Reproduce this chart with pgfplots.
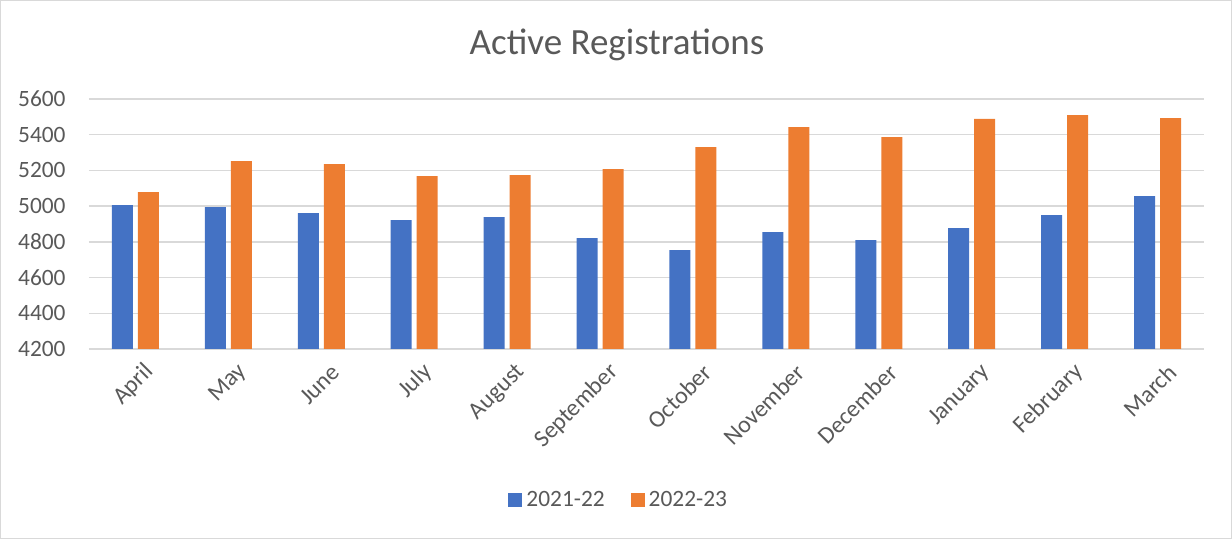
\documentclass[border=0pt]{standalone}
\usepackage{pgfplots}
\pgfplotsset{compat=1.18}
\usepackage{fontspec}
\setmainfont{Carlito}
\definecolor{cblue}{HTML}{4472C4}
\definecolor{corange}{HTML}{ED7D31}
\definecolor{tgray}{HTML}{595959}
\definecolor{ggray}{HTML}{D9D9D9}
\begin{document}
\begin{tikzpicture}
\useasboundingbox (-44.5pt,-95pt) rectangle (571.5pt,174.5pt);
\draw[ggray,line width=0.6pt] (-44.2pt,-94.7pt) rectangle (571.2pt,174.2pt);
\begin{axis}[
  at={(0,0)}, anchor=south west,
  scale only axis, width=557.5pt, height=125pt,
  ybar=2.5pt, bar width=10.5pt,
  xmin=-0.5, xmax=11.5, ymin=4200, ymax=5600,
  ytick={4200,4400,...,5600},
  xtick=data,
  xticklabels={April,May,June,July,August,September,October,November,December,January,February,March},
  axis line style={draw=none},
  major tick length=0pt,
  ymajorgrids, grid style={ggray,line width=0.7pt},
  /pgf/number format/assume math mode=true,
  /pgf/number format/1000 sep={},
  yticklabel style={font=\fontsize{11.7}{14}\selectfont, text=tgray, inner sep=0pt, xshift=-11.5pt},
  xticklabel style={font=\fontsize{12}{14}\selectfont, text=tgray, rotate=45, anchor=east, inner sep=1pt, xshift=-0.5pt, yshift=-12pt},
  legend style={at={(0.476,-0.604)}, anchor=center, draw=none, legend columns=2,
    font=\fontsize{11.7}{14}\selectfont, text=tgray,
    /tikz/every even column/.append style={column sep=11pt}},
  legend image code/.code={\fill[#1] (0pt,-3.5pt) rectangle (7pt,3.5pt);},
]
\addplot[fill=cblue, draw=none] coordinates {
(0,5006) (1,4994) (2,4961) (3,4921) (4,4938) (5,4821) (6,4753) (7,4854) (8,4809) (9,4877) (10,4950) (11,5056)};
\addplot[fill=corange, draw=none] coordinates {
(0,5078) (1,5252) (2,5235) (3,5168) (4,5174) (5,5207) (6,5331) (7,5443) (8,5387) (9,5488) (10,5510) (11,5493)};
\legend{2021-22,2022-23}
\end{axis}
\node[text=tgray, font=\fontsize{18.5}{22}\selectfont] at (264pt,152pt) {Active Registrations};
\end{tikzpicture}
\end{document}
